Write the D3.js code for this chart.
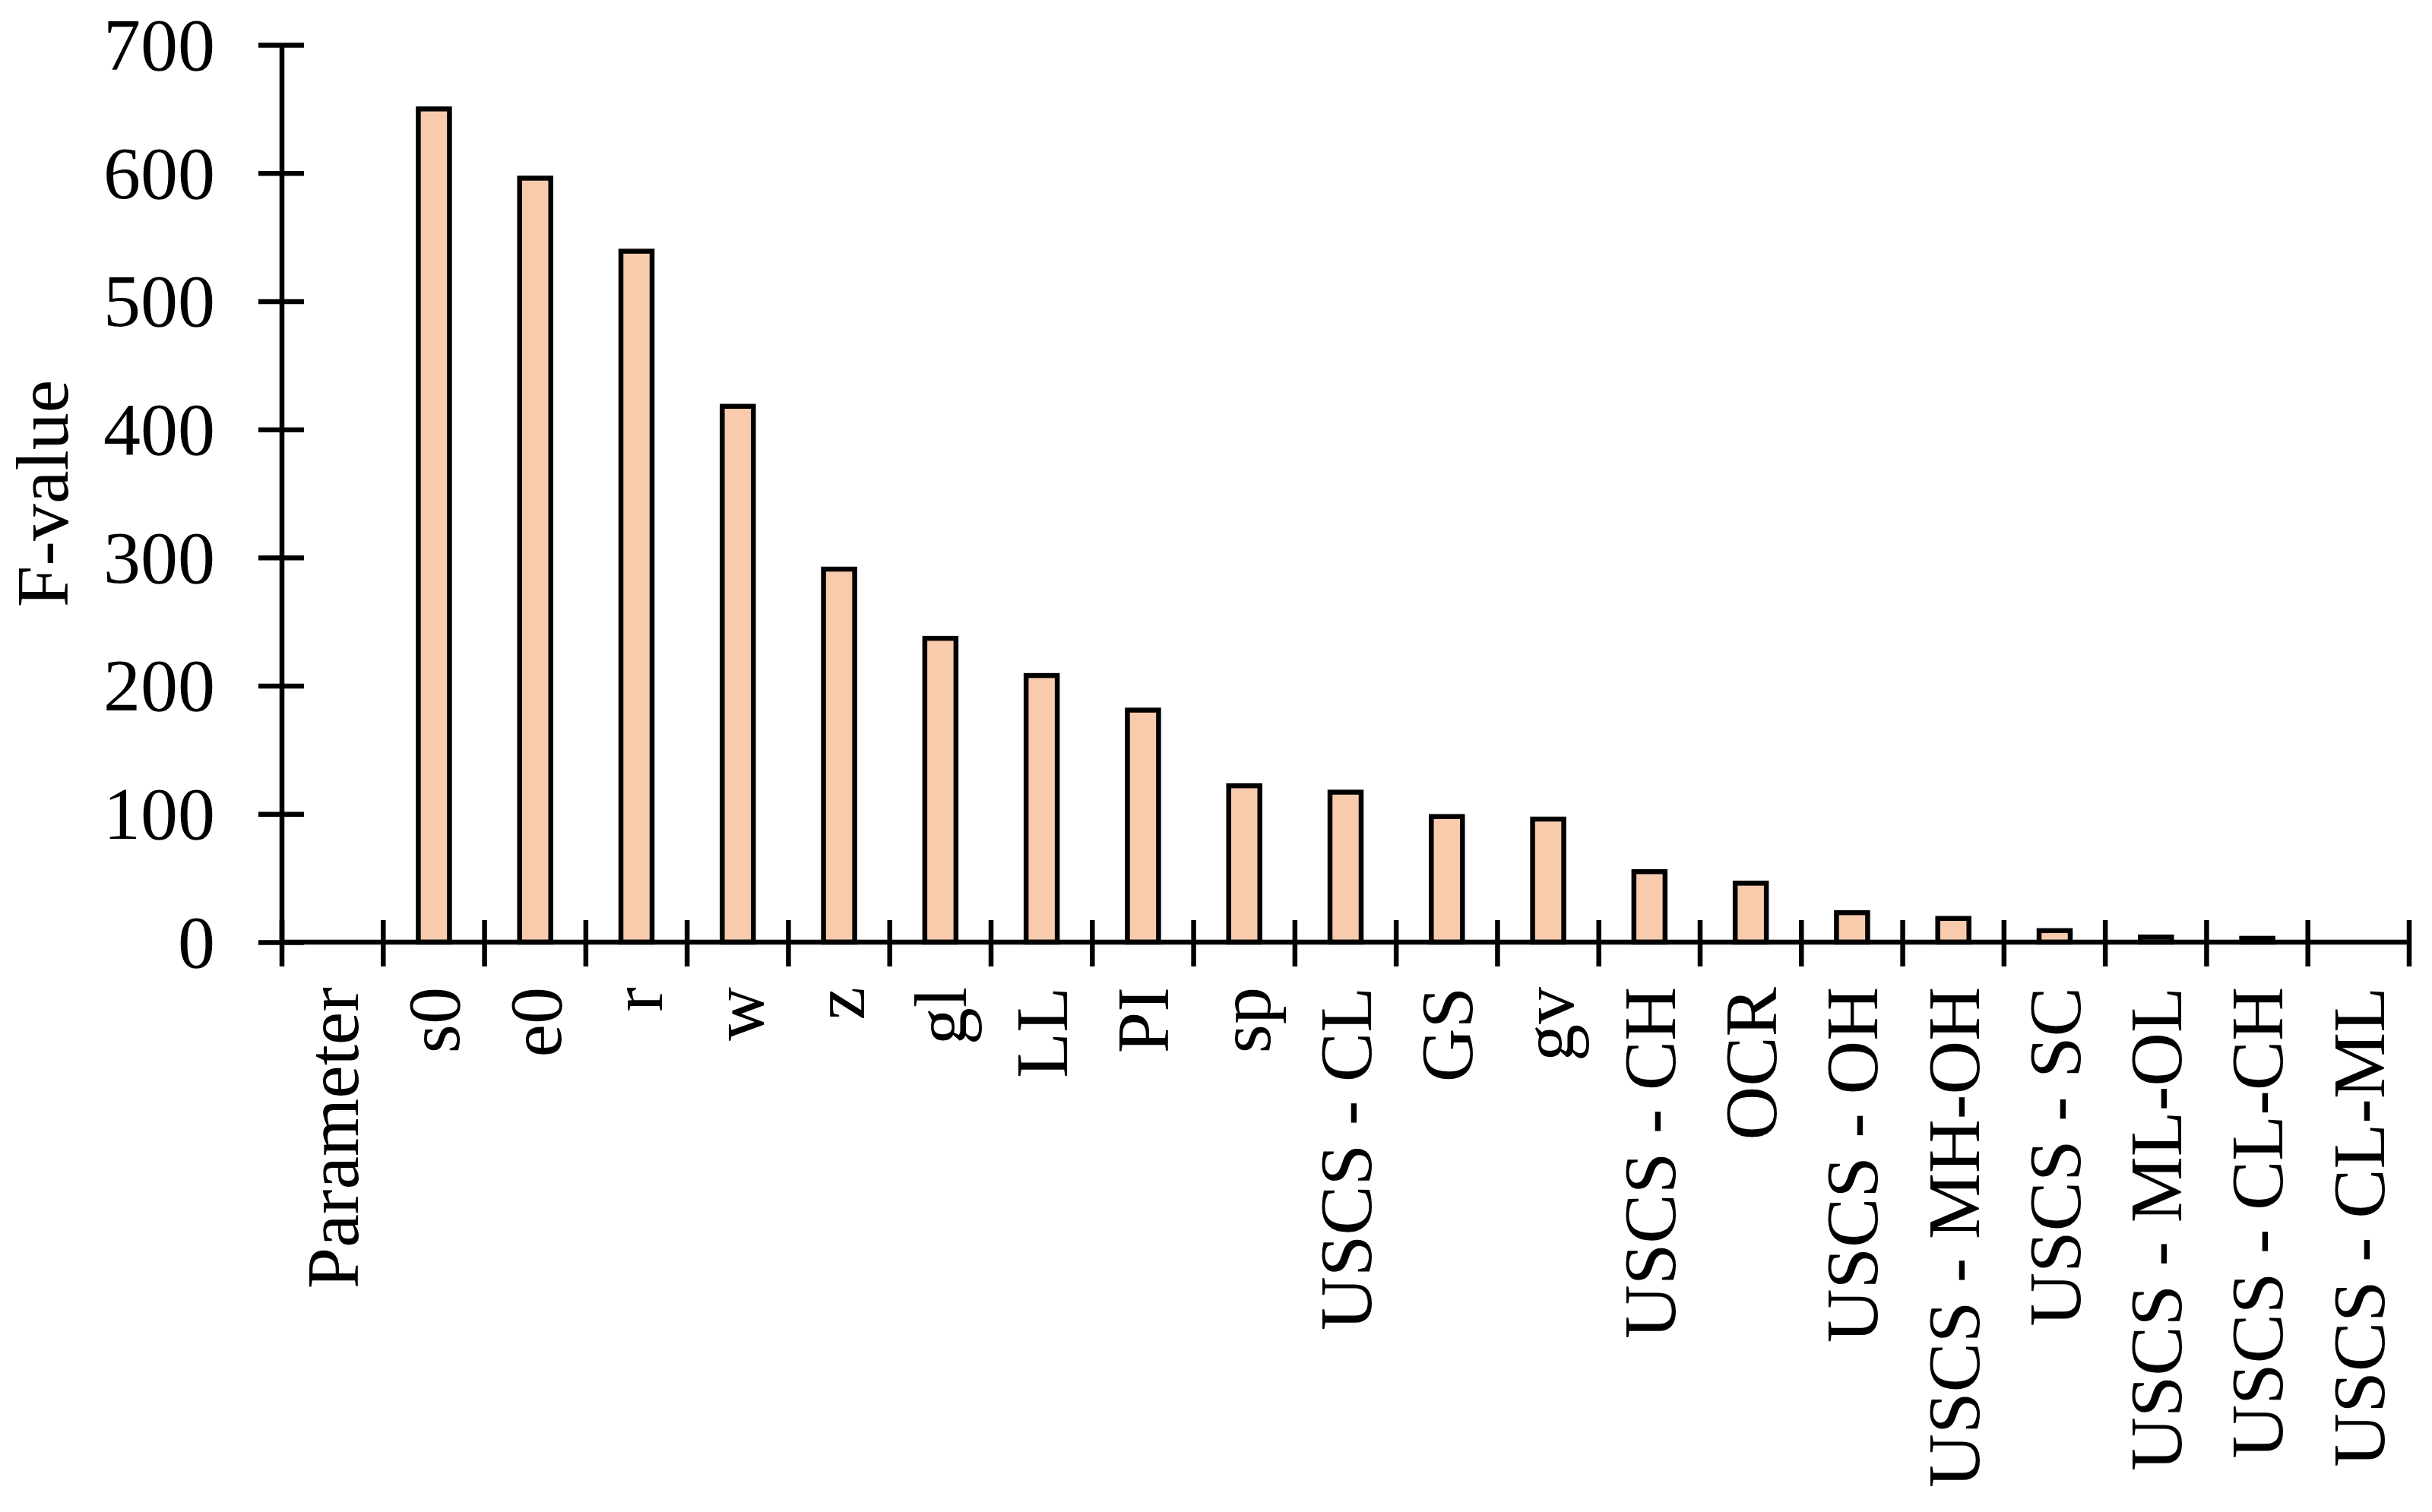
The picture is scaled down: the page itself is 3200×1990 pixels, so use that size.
<!DOCTYPE html>
<html>
<head>
<meta charset="utf-8">
<script src="https://cdn.jsdelivr.net/npm/d3@7"></script>
<style>
  html, body { margin: 0; padding: 0; background: #fff; }
  svg { display: block; }
  text { font-family: "Liberation Serif", "Times New Roman", serif; fill: #000; }
</style>
</head>
<body>
<svg id="chart" width="3200" height="1990"></svg>
<script>
const categories = ["Parameter", "s0", "e0", "r", "w", "z", "gl", "LL", "PI", "sp",
  "USCS - CL", "GS", "gv", "USCS - CH", "OCR", "USCS - OH", "USCS - MH-OH",
  "USCS - SC", "USCS - ML-OL", "USCS - CL-CH", "USCS - CL-ML"];
const fValues = [null, 650, 596, 539, 418, 291, 237, 208, 181, 122,
  117, 98, 96, 55, 46, 23, 18.5, 9, 4, 3, 0];
const yTicks = [0, 100, 200, 300, 400, 500, 600, 700];
const yTitle = "F-value";

const svg = d3.select("#chart");
const plotLeft = 371, plotRight = 3170, plotTop = 59, zeroY = 1240;
const fontSize = 98;
const lineW = 6.5;

const x = d3.scaleBand().domain(categories).range([plotLeft, plotRight]).padding(0);
const y = d3.scaleLinear().domain([0, 700]).range([zeroY, plotTop]);

// Bars
const barW = 41;
const data = categories.map((c, i) => ({ c, v: fValues[i] })).filter(d => d.v !== null);
svg.append("g").selectAll("rect").data(data).join("rect")
  .attr("x", d => x(d.c) + x.bandwidth() / 2 - barW / 2)
  .attr("width", barW)
  .attr("y", d => y(d.v))
  .attr("height", d => y(0) - y(d.v))
  .attr("fill", "#F8CBAD")
  .attr("stroke", "#000")
  .attr("stroke-width", lineW)
  .attr("stroke-linejoin", "miter");

// Y axis
const yAxis = svg.append("g").attr("transform", `translate(${plotLeft},0)`)
  .call(d3.axisLeft(y).tickValues(yTicks).tickSize(0).tickPadding(0).tickFormat(d3.format("d")));
yAxis.select(".domain").remove();
yAxis.append("line").attr("x1", 0).attr("x2", 0).attr("y1", y(700)).attr("y2", y(0))
  .attr("stroke", "#000").attr("stroke-width", lineW);
yAxis.selectAll(".tick line").attr("x1", -31).attr("x2", 29)
  .attr("stroke", "#000").attr("stroke-width", lineW);
yAxis.selectAll(".tick text")
  .attr("x", -88).attr("dy", "0.33em")
  .attr("text-anchor", "end")
  .style("font-family", "'Liberation Serif', 'Times New Roman', serif")
  .style("font-size", fontSize + "px").attr("fill", "#000");

// X axis
const xAxis = svg.append("g");
xAxis.append("line").attr("x1", plotLeft - 3).attr("x2", plotRight + 3)
  .attr("y1", zeroY).attr("y2", zeroY)
  .attr("stroke", "#000").attr("stroke-width", lineW);
const boundaries = categories.map(c => x(c)).concat([x.range()[1]]);
xAxis.selectAll("line.tk").data(boundaries).join("line").attr("class", "tk")
  .attr("x1", d => d).attr("x2", d => d)
  .attr("y1", zeroY - 29).attr("y2", zeroY + 32)
  .attr("stroke", "#000").attr("stroke-width", lineW);
xAxis.selectAll("text").data(categories).join("text")
  .attr("transform", d => `translate(${x(d) + x.bandwidth() / 2},1299) rotate(-90)`)
  .attr("text-anchor", "end")
  .attr("dy", "0.34em")
  .style("font-size", fontSize + "px")
  .text(d => d);

// Y title
svg.append("text")
  .attr("transform", `translate(89,${(y(700) + y(0)) / 2}) rotate(-90)`)
  .attr("text-anchor", "middle")
  .style("font-size", fontSize + "px")
  .text(yTitle);
</script>
</body>
</html>
